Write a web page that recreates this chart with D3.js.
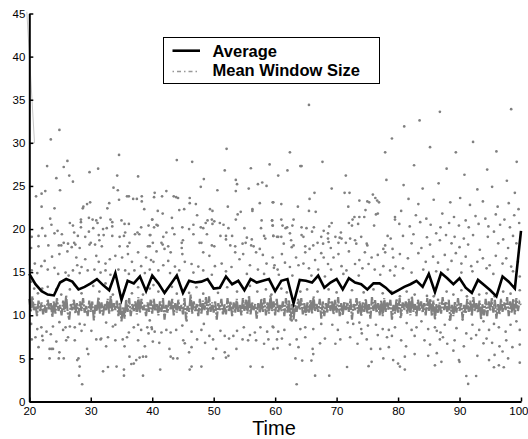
<!DOCTYPE html>
<html><head><meta charset="utf-8">
<script src="https://cdn.jsdelivr.net/npm/d3@7"></script>
<style>
html,body{margin:0;padding:0;background:#fff;}
svg{display:block;font-family:"Liberation Sans",Arial,Helvetica,sans-serif;}
</style></head><body>
<svg id="chart" width="528" height="439"></svg>
<script>
// Axis ticks
const xTicks = [20, 30, 40, 50, 60, 70, 80, 90, 100];
const yTicks = [0, 5, 10, 15, 20, 25, 30, 35, 40, 45];

// Average window size, one value per time unit
const avgTime = [20,21,22,23,24,25,26,27,28,29,30,31,32,33,34,35,36,37,38,39,40,41,42,43,44,45,46,47,48,49,50,51,52,53,54,55,56,57,58,59,60,61,62,63,64,65,66,67,68,69,70,71,72,73,74,75,76,77,78,79,80,81,82,83,84,85,86,87,88,89,90,91,92,93,94,95,96,97,98,99,100];
const avgValue = [14.8,13.6,12.8,12.4,12.3,13.8,14.2,13.9,13.0,13.3,13.7,14.2,13.5,12.9,14.9,11.8,14.0,13.7,14.5,12.8,14.6,13.7,12.6,13.6,14.6,12.6,14.0,13.8,13.9,14.2,13.1,13.2,14.5,13.6,14.0,12.9,14.2,13.8,14.0,14.2,12.8,14.0,14.2,11.4,14.1,14.0,13.8,14.6,13.2,13.8,14.2,13.0,14.3,13.8,13.6,13.0,13.7,13.7,13.2,12.5,12.9,13.3,13.6,14.0,13.3,14.8,12.7,14.9,14.3,13.6,14.3,13.2,12.6,14.1,13.5,12.9,12.2,14.5,13.9,13.1,19.8];

// Mean window size, sampled every quarter time unit from t = 20
const meanWindowStart = 20;
const meanWindowStep = 0.25;
const meanWindow = [
 11.9,10.4,12.2,10.6, 11.3,9.9,11.7,10.5, 11.5,10.1,11.2,10.3, 11.8,10.6,11.4,9.8, 11.6,10.2,12.0,10.5,
 11.2,10.0,11.7,10.4, 12.3,10.3,9.5,11.3, 10.6,11.8,10.2,11.4, 10.0,11.6,10.5,12.0, 10.3,11.1,9.9,11.7,
 10.4,11.6,9.4,11.2, 10.5,12.1,10.2,11.5, 10.0,11.3,10.6,11.9, 10.2,12.3,10.4,11.4, 10.6,11.7,9.9,11.5,
 9.3,11.0,9.6,11.8, 10.4,12.0,9.9,11.3, 10.5,11.6,10.1,12.1, 10.3,11.9,10.6,11.2, 9.9,11.5,10.4,11.8,
 10.2,11.9,10.5,11.3, 10.0,11.6,10.4,12.0, 9.5,11.2,10.3,11.7, 10.6,11.9,10.0,11.4, 10.3,11.8,10.5,11.2,
 10.1,12.0,9.5,11.1, 10.4,12.4,10.2,11.6, 10.5,11.3,9.9,11.9, 10.2,11.7,10.6,12.1, 10.0,12.2,10.4,11.5,
 10.3,11.6,9.5,11.4, 10.6,11.9,10.1,11.3, 10.1,12.0,10.5,11.6, 9.9,11.5,10.3,11.9, 10.4,11.2,10.0,12.0,
 10.5,11.8,10.2,12.3, 10.1,11.5,10.6,11.3, 9.6,11.4,10.3,11.9, 10.4,12.0,10.0,11.5, 10.2,12.3,10.5,11.6,
 10.0,11.9,10.3,11.2, 10.5,11.6,9.9,12.0, 10.3,11.8,9.4,11.3, 9.5,11.2,10.4,11.9, 10.6,12.0,10.1,11.4,
 10.0,11.5,10.3,11.8, 10.2,12.2,10.5,11.3, 10.4,11.9,9.6,11.6, 9.9,11.4,10.3,12.0, 10.5,11.7,10.1,11.8,
 10.3,12.1,9.9,11.4, 10.0,11.6,10.6,11.5, 10.4,11.9,9.5,11.3, 10.6,12.0,10.2,11.6, 9.9,11.5,10.4,11.9,
 10.2,11.3,9.6,12.1, 10.5,11.8,10.3,11.4, 10.0,11.7,9.9,12.0, 10.4,11.5,10.6,11.8, 9.5,11.2,10.2,11.9,
 10.3,12.0,9.9,11.5, 10.6,11.6,10.2,11.9, 10.0,12.2,10.4,11.3, 9.9,11.8,10.5,11.6, 10.3,11.4,10.0,12.0,
 10.5,11.9,9.9,11.7, 9.5,11.3,10.3,11.5, 10.2,12.1,10.6,11.6, 10.4,11.8,9.4,11.2, 9.9,11.6,10.3,12.0,
 10.5,11.4,9.6,11.2, 10.2,11.9,10.4,11.7, 9.9,12.1,10.5,11.4, 10.3,11.7,9.5,11.3, 10.0,11.9,9.9,11.6,
 10.5,12.0,10.3,11.8, 9.6,11.3,10.1,11.9, 10.4,11.5,10.6,12.1, 9.9,11.6,10.3,11.9, 10.1,12.0,10.5,11.5,
 11.2
];

// Early transient of the window size trace
const startTrace = [[19.6, 45.2], [20.85, 30.0], [20.0, 30.0]];

// Individual window sizes observed over time [time, size]
const windowSamples = [
[24.9,31.5],[23.5,30.4],[34.6,28.6],[26.2,27.9],[22.9,27.3],[25.6,27.2],[31.2,27.0],[29.8,26.6],[26.5,26.2],[37.7,26.1],
[34.3,26.2],[24.4,25.9],[27.1,25.5],[33.7,24.8],[25.0,24.5],[34.4,24.5],[22.6,24.4],[22.0,24.1],[21.1,23.8],[34.6,23.4],
[36.2,23.8],[35.9,23.8],[36.9,23.5],[37.5,23.5],[38.3,23.8],[38.3,23.2],[29.9,23.1],[29.4,22.9],[22.0,22.6],[28.8,22.6],
[28.7,22.4],[24.1,22.4],[32.7,22.4],[33.0,23.0],[38.7,22.3],[23.4,21.2],[29.7,21.3],[28.4,21.1],[30.3,21.1],[30.9,21.0],
[31.6,21.3],[33.2,21.1],[35.0,21.0],[28.4,20.8],[23.6,20.5],[26.6,20.7],[27.1,20.4],[31.1,20.7],[33.5,20.8],[35.5,20.6],
[36.2,20.6],[39.4,20.4],[40.0,21.1],[28.4,20.2],[30.4,20.1],[32.6,20.1],[32.0,20.0],[38.2,20.2],[33.5,20.3],[22.1,20.1],
[24.6,19.8],[24.1,19.5],[25.3,19.4],[27.3,19.6],[29.7,19.7],[27.9,19.2],[29.1,19.1],[31.3,19.3],[32.1,19.3],[33.5,19.2],
[34.7,19.1],[35.6,19.6],[35.4,19.2],[37.2,19.4],[37.6,19.6],[37.9,19.4],[39.7,19.3],[20.4,19.1],[21.5,19.2],[22.6,19.2],
[31.4,18.7],[30.0,18.4],[29.8,18.2],[26.3,18.3],[27.3,18.4],[27.5,18.2],[24.8,18.1],[25.2,18.1],[25.6,18.4],[23.1,18.1],
[21.5,18.0],[20.3,17.8],[26.9,17.9],[28.2,17.8],[30.7,18.2],[31.8,18.0],[34.7,18.0],[36.0,18.0],[36.3,18.4],[39.3,18.0],
[52.1,29.3],[44.0,28.0],[46.5,27.8],[56.05,27.05],[59.1,27.5],[51.8,26.8],[48.4,25.8],[53.6,25.7],[53.8,25.2],[47.9,24.9],
[53.6,24.4],[50.6,24.5],[55.7,24.7],[57.2,25.2],[57.9,25.4],[58.6,25.0],[40.4,24.2],[42.3,24.4],[40.3,23.7],[41.6,23.8],
[43.5,23.8],[43.9,23.7],[44.2,23.6],[46.1,23.6],[46.1,23.0],[47.1,22.9],[57.5,23.0],[59.7,23.1],[52.3,22.6],[44.4,22.2],
[45.2,22.3],[49.4,22.3],[49.8,22.1],[54.4,22.0],[53.9,21.7],[56.3,22.3],[56.3,22.1],[40.9,22.1],[41.7,21.8],[47.3,21.6],
[43.2,21.3],[40.0,21.1],[49.0,21.0],[49.7,21.1],[50.1,20.9],[53.6,21.1],[57.8,21.0],[59.5,21.0],[48.7,20.7],[49.8,20.6],
[51.0,20.7],[51.6,20.5],[40.7,20.5],[40.3,20.2],[40.9,20.4],[46.7,20.5],[47.9,20.2],[48.3,20.1],[44.9,20.2],[43.3,20.1],
[46.0,20.0],[52.4,20.1],[55.0,20.1],[57.7,20.1],[59.6,20.4],[42.3,19.6],[39.6,19.3],[41.8,19.1],[43.6,19.4],[46.7,19.4],
[48.9,19.4],[51.1,19.2],[52.0,19.2],[53.0,19.2],[55.4,19.0],[56.2,18.8],[58.2,19.2],[58.4,18.9],[59.7,19.2],[45.0,18.7],
[44.8,18.4],[40.1,18.4],[41.5,18.4],[41.7,18.2],[42.6,18.0],[47.7,18.4],[48.0,18.4],[49.7,18.1],[50.1,18.0],[52.0,18.8],
[52.7,18.1],[53.5,18.0],[54.7,18.3],[55.2,18.4],[56.1,18.1],[56.5,18.0],[57.5,17.7],[44.8,17.8],[42.0,17.7],[39.6,18.0],
[65.5,34.4],[79.0,30.5],[62.4,28.9],[77.9,28.9],[67.7,27.8],[64.1,27.3],[64.3,27.3],[62.0,26.8],[60.5,26.2],[71.5,26.2],
[78.1,25.7],[69.2,24.7],[66.4,24.2],[71.3,24.2],[72.1,24.2],[75.9,24.0],[65.6,23.5],[59.6,23.1],[61.0,22.9],[73.7,23.3],
[75.0,23.2],[75.3,23.1],[76.3,23.6],[76.6,23.3],[76.9,23.1],[63.7,22.6],[71.9,22.6],[65.5,22.1],[66.6,22.0],[74.7,22.2],
[76.7,21.8],[76.4,21.7],[72.9,21.4],[73.7,21.4],[74.5,21.4],[63.0,21.1],[79.5,21.4],[79.5,21.1],[61.0,21.1],[59.5,21.0],
[72.6,21.1],[72.0,20.7],[69.2,20.7],[73.5,20.6],[59.6,20.4],[61.2,20.4],[61.7,20.1],[61.95,20.2],[62.8,20.4],[64.3,20.2],
[65.1,20.1],[66.3,20.2],[68.8,20.3],[72.5,20.4],[76.1,20.4],[67.9,19.8],[68.6,19.5],[70.7,19.6],[66.0,19.7],[62.4,19.5],
[60.5,19.1],[59.7,19.2],[60.3,19.1],[61.0,19.1],[64.3,19.3],[64.6,19.1],[67.5,19.1],[68.6,18.9],[69.8,19.1],[70.5,19.0],
[70.8,18.9],[72.2,18.9],[74.0,19.1],[78.3,19.2],[78.8,18.9],[62.6,18.7],[66.9,18.4],[67.8,18.3],[68.7,18.5],[70.3,18.4],
[71.5,18.4],[73.0,18.7],[73.2,18.3],[74.9,18.3],[75.0,18.1],[63.0,18.1],[62.7,17.9],[61.4,18.3],[64.9,18.0],[65.6,17.7],
[66.2,18.1],[69.05,17.8],[77.9,18.1],[77.6,17.7],[79.1,17.7],
[23.7,16.8],[20.9,16.0],[21.96,15.7],[22.5,16.3],[24.9,17.1],[26.2,17.4],[27.65,16.7],[27.8,15.8],[28.5,15.6],[29.1,16.5],
[30.9,16.9],[31.3,16.2],[32.4,16.0],[33.1,16.5],[34.0,16.9],[35.1,16.7],[36.05,17.1],[36.7,16.2],[37.7,17.3],[38.2,15.7],
[39.0,16.7],[39.8,16.4],[20.4,15.2],[21.3,14.9],[23.0,15.3],[24.1,15.5],[24.7,14.8],[25.9,14.95],[26.4,14.6],[27.1,15.2],
[28.2,14.9],[29.5,15.2],[30.6,15.3],[31.6,14.95],[32.4,15.2],[33.2,14.7],[34.5,15.3],[35.6,15.2],[36.2,14.8],[37.1,15.2],
[38.8,14.9],[39.6,15.3],[20.3,13.9],[20.8,13.1],[21.4,12.55],[22.1,13.1],[23.0,13.3],[24.4,13.0],[25.2,12.4],[26.6,13.0],
[27.4,13.5],[28.5,12.55],[30.4,13.4],[31.4,12.75],[32.4,13.7],[33.6,12.4],[35.5,12.9],[36.7,12.55],[37.7,13.25],[38.5,12.4],
[39.6,13.1],[20.3,9.0],[21.3,8.4],[21.96,8.6],[21.0,7.45],[22.1,7.6],[22.8,8.1],[23.5,7.8],[23.85,8.7],[24.9,9.2],
[25.5,8.3],[25.9,8.6],[26.6,8.7],[27.4,8.6],[28.2,9.0],[29.0,8.9],[26.3,7.45],[26.0,7.1],[27.4,7.1],[28.5,8.2],
[30.1,8.2],[30.9,7.2],[31.7,7.3],[32.8,7.45],[33.6,8.7],[32.5,9.15],[34.0,8.9],[35.2,7.2],[35.9,7.45],[36.2,8.0],
[37.0,8.6],[37.7,8.9],[38.2,8.3],[39.2,8.6],[39.6,9.4],[39.95,8.4],[20.4,7.2],[21.5,6.3],[23.3,6.1],[23.6,6.1],
[23.85,6.1],[24.9,5.7],[24.8,5.0],[23.3,5.0],[25.6,5.0],[27.8,4.8],[28.0,5.0],[29.4,6.1],[29.6,5.5],[31.6,7.2],
[32.5,6.4],[32.8,4.0],[34.2,4.05],[35.4,3.7],[35.4,3.0],[36.3,5.2],[36.6,4.35],[37.0,4.4],[37.4,4.8],[37.95,5.1],
[38.5,5.2],[39.0,5.2],[38.5,3.0],[34.0,7.1],[35.5,6.4],[37.7,7.1],[38.8,6.4],[39.4,7.9],[28.2,4.05],[28.1,3.0],
[28.6,2.0],[32.0,3.5],[22.2,7.1],[24.4,6.95],
[40.7,17.4],[43.0,17.3],[44.9,17.1],[48.3,17.3],[49.3,16.9],[53.5,17.3],[54.8,17.1],[56.9,17.3],[58.0,17.0],[59.6,16.7],
[40.2,16.2],[41.8,15.8],[42.6,16.3],[43.7,15.65],[45.3,16.2],[46.4,15.95],[47.5,15.65],[48.3,15.2],[50.2,15.7],[51.3,16.0],
[52.9,15.6],[54.2,16.5],[55.9,15.8],[57.2,15.3],[58.6,16.0],[59.8,15.5],[41.0,15.2],[42.9,14.9],[44.4,15.2],[46.7,14.95],
[49.7,14.7],[52.0,15.1],[55.4,14.8],[58.2,14.8],[40.2,13.5],[41.0,12.75],[43.2,13.3],[44.0,12.5],[46.0,12.6],[47.2,13.25],
[48.3,12.5],[50.7,12.6],[52.2,13.25],[53.8,12.75],[55.9,13.4],[57.1,12.75],[58.5,13.0],[59.4,12.4],
[39.9,8.6],[40.4,8.1],[41.5,8.0],[42.3,8.3],[43.0,8.0],[43.9,8.3],[44.9,8.8],[45.6,9.4],[46.4,8.1],[48.0,8.3],
[48.4,9.0],[49.3,7.6],[51.1,8.2],[51.8,7.6],[52.5,7.3],[53.2,7.6],[53.8,8.2],[54.9,8.6],[55.9,7.7],[56.7,8.0],
[57.6,8.6],[58.7,8.1],[59.6,8.7],[40.1,6.95],[41.15,6.8],[45.05,7.1],[45.3,6.75],[47.3,7.2],[46.4,6.3],[48.6,6.8],
[49.9,7.2],[50.4,6.1],[51.8,5.7],[53.7,6.1],[54.7,7.2],[55.6,7.1],[56.9,7.1],[58.2,6.7],[58.9,7.2],[42.8,6.1],
[43.0,5.2],[43.4,5.0],[44.1,5.0],[46.0,5.7],[49.9,5.0],[52.0,5.1],[52.4,5.3],[56.0,4.05],[57.95,4.0],[46.4,4.05],
[46.1,3.7],[48.0,4.05],[41.3,3.7],
[61.1,17.1],[63.4,16.7],[64.9,17.3],[66.5,16.4],[67.5,17.2],[67.9,16.7],[69.5,16.7],[70.3,17.1],[72.0,17.4],[73.7,16.4],
[74.6,17.3],[75.7,16.7],[76.7,17.0],[77.9,17.3],[79.2,16.7],[59.9,15.8],[60.4,15.3],[61.6,16.1],[62.4,15.6],[63.8,15.8],
[64.6,16.0],[65.5,15.45],[67.0,15.3],[68.6,15.95],[69.1,15.3],[70.8,15.7],[71.6,15.2],[73.0,15.95],[74.2,15.45],[75.2,15.95],
[76.2,15.3],[77.6,15.7],[78.7,15.2],[79.6,15.65],[60.6,14.7],[62.8,14.6],[65.9,14.6],[68.1,14.5],[71.1,14.8],[73.6,14.6],
[77.1,14.7],[79.4,14.6],[61.0,13.1],[61.9,12.65],[64.1,12.75],[65.2,13.0],[66.9,12.75],[68.7,13.0],[70.0,12.65],[72.5,12.9],
[74.4,12.65],[76.0,13.0],[77.5,12.55],[78.9,12.75],
[62.7,9.4],[63.4,9.4],[59.7,8.6],[60.5,8.1],[61.5,8.3],[64.1,8.4],[64.9,8.6],[66.2,8.4],[67.5,9.0],[69.3,8.9],
[70.2,8.3],[71.8,9.15],[72.7,9.0],[73.7,9.15],[74.0,8.4],[75.1,8.8],[76.4,8.9],[77.5,8.4],[78.5,8.3],[79.5,8.6],
[60.3,7.2],[61.1,7.3],[63.5,7.2],[64.9,7.45],[68.1,7.3],[70.6,7.2],[72.2,7.45],[74.1,7.9],[74.9,7.2],[76.7,7.7],
[78.2,7.45],[79.0,7.6],[59.7,6.1],[60.4,6.2],[62.4,6.6],[63.8,6.3],[66.1,6.1],[67.3,6.75],[69.8,6.7],[73.4,6.7],
[75.6,6.1],[77.1,6.1],[78.5,6.3],[63.3,5.0],[64.4,4.75],[66.2,5.5],[65.9,4.75],[71.7,4.0],[75.2,4.1],[75.7,4.6],
[77.6,5.0],[79.2,4.8],[66.5,3.0],[68.8,3.0],[63.5,2.0],
[80.8,19.2],[82.2,18.35],[82.5,19.4],[83.8,17.8],[84.7,19.05],[85.2,18.2],[86.2,19.5],[86.8,18.7],[87.8,19.3],[88.7,18.35],
[89.2,19.1],[90.0,17.9],[90.7,18.9],[91.4,18.2],[92.2,19.3],[93.3,17.6],[94.6,19.1],[95.6,19.7],[96.3,18.35],[97.1,18.8],
[97.9,17.8],[98.7,19.2],[99.25,18.35],[80.3,17.1],[81.6,16.6],[83.3,17.2],[84.5,16.2],[85.7,16.8],[86.5,16.1],[87.6,17.0],
[88.7,16.3],[89.4,17.2],[90.3,16.0],[91.0,16.8],[91.9,15.7],[92.9,16.2],[93.8,16.6],[94.9,15.8],[95.9,16.9],[97.0,16.0],
[97.6,16.6],[98.4,15.65],[99.5,16.2],[80.8,15.45],[82.2,14.95],[84.1,15.3],[86.2,15.1],[88.1,15.3],[90.3,14.95],[92.1,15.1],
[94.4,15.45],[95.5,14.8],[98.7,15.1],[99.8,14.5],[80.3,12.2],[81.4,12.75],[82.7,12.4],[84.7,12.25],[85.8,12.2],[86.5,11.8],
[87.9,12.75],[89.0,12.4],[90.3,12.9],[91.2,12.2],[93.2,12.4],[94.4,12.55],[95.7,12.2],[97.1,12.75],[98.3,12.5],[99.8,12.9],
[80.4,9.8],[81.4,9.1],[82.2,8.3],[83.0,8.6],[83.8,9.3],[84.9,8.4],[86.0,8.6],[86.3,8.2],[86.9,8.0],[87.6,8.9],
[88.4,9.5],[89.5,8.5],[90.5,9.5],[91.1,7.9],[92.1,8.9],[93.2,8.3],[93.9,9.3],[94.8,8.3],[95.6,9.0],[96.4,8.6],
[97.5,8.1],[98.3,8.9],[99.25,9.3],[99.8,8.3],[80.5,7.1],[81.3,6.4],[82.7,7.6],[84.3,7.1],[85.2,6.6],[86.8,7.2],
[87.3,7.45],[88.0,6.7],[89.2,7.1],[90.7,6.4],[91.9,7.3],[92.7,7.7],[93.9,6.75],[94.4,7.3],[95.3,6.8],[96.5,6.4],
[97.6,7.1],[98.6,6.3],[99.8,6.6],[81.1,5.2],[82.7,5.5],[84.9,5.3],[86.3,5.6],[89.0,5.9],[89.9,4.8],[92.9,5.3],
[95.7,5.4],[97.0,5.8],[97.9,5.0],[80.0,4.4],[80.3,4.05],[81.1,3.7],[86.0,4.2],[87.05,4.6],[90.0,4.6],[94.8,4.8],
[95.6,3.97],[96.4,4.2],[97.2,3.97],[99.8,4.5],[91.1,2.96],[92.7,2.96],[91.4,2.04],
[86.8,33.6],[98.4,33.9],[81.0,31.9],[83.5,32.6],[85.2,29.5],[89.4,28.9],[92.2,30.1],[96.0,29.0],[99.3,27.8],[82.6,27.4],
[87.9,27.0],[94.5,26.9],[90.8,26.3],[97.7,25.6],[80.9,25.1],[84.0,24.7],[86.6,25.3],[92.9,24.6],[95.3,24.9],[99.0,24.2],
[81.7,23.5],[83.3,22.9],[85.8,23.4],[88.5,23.1],[90.1,23.6],[91.7,22.8],[93.8,23.2],[96.2,22.6],[98.0,23.0],[99.6,22.3],
[80.5,22.1],[82.9,21.6],[84.6,21.2],[87.2,21.8],[89.1,21.4],[91.0,21.0],[92.6,21.5],[94.2,21.2],[95.9,21.7],[97.3,21.1],
[98.9,21.6],[80.2,20.6],[81.9,20.3],[83.6,20.8],[85.3,20.5],[86.9,20.2],[88.3,20.7],[89.9,20.4],[91.5,20.2],[93.1,20.6],
[94.7,20.3],[96.6,20.5],[98.2,20.2],[99.7,20.7]
];

const W = 528, H = 439;
const x = d3.scaleLinear().domain([20, 100]).range([29.3, 521]);
const y = d3.scaleLinear().domain([0, 45]).range([401.5, 13.5]);

const svg = d3.select("#chart");
svg.append("rect").attr("width", W).attr("height", H).attr("fill", "#fff");

// scattered samples
svg.append("g").selectAll("circle").data(windowSamples).join("circle")
  .attr("cx", d => x(d[0])).attr("cy", d => y(d[1]))
  .attr("r", 1.35).attr("fill", "#808080");

// mean window size trace
const meanPts = meanWindow.map((v, i) => [meanWindowStart + i * meanWindowStep, v]);
const line = d3.line().x(d => x(d[0])).y(d => y(d[1]));
svg.append("path").datum(meanPts).attr("d", line)
  .attr("fill", "none").attr("stroke", "#808080").attr("stroke-width", 2.2)
  .attr("stroke-dasharray", "12,1.5,2,1.5");
svg.append("path").datum(startTrace).attr("d", line)
  .attr("fill", "none").attr("stroke", "#c8c8c8").attr("stroke-width", 1);

// average
svg.append("path").datum(avgTime.map((t, i) => [t, avgValue[i]])).attr("d", line)
  .attr("fill", "none").attr("stroke", "#000").attr("stroke-width", 2.6)
  .attr("stroke-linejoin", "miter");

// axes
const xAxis = d3.axisBottom(x).tickValues(xTicks).tickSizeInner(-4).tickSizeOuter(0).tickPadding(5).tickFormat(d3.format("d"));
const yAxis = d3.axisLeft(y).tickValues(yTicks).tickSizeInner(-4).tickSizeOuter(0).tickPadding(4).tickFormat(d3.format("d"));
const gx = svg.append("g").attr("transform", `translate(0,${y(0)})`).call(xAxis);
const gy = svg.append("g").attr("transform", `translate(${x(20)},0)`).call(yAxis);
[gx, gy].forEach(g => {
  g.select(".domain").attr("stroke", "#000").attr("stroke-width", 2);
  g.selectAll(".tick line").attr("stroke", "#000").attr("stroke-width", 1.5);
  g.selectAll(".tick text").attr("fill", "#000").style("font-size", "11.5px")
    .style("font-family", "'Liberation Sans', Arial, sans-serif");
});
// keep the last time label inside the frame
gx.selectAll(".tick text").filter(d => d === 100).attr("text-anchor", "end").attr("x", 7);

svg.append("text").attr("x", 274).attr("y", 435).attr("text-anchor", "middle")
  .style("font-size", "20px").text("Time");

// legend
const lg = svg.append("g");
lg.append("rect").attr("x", 163.5).attr("y", 37.5).attr("width", 216).attr("height", 46)
  .attr("fill", "#fff").attr("stroke", "#000").attr("stroke-width", 1);
lg.append("line").attr("x1", 172.5).attr("x2", 200).attr("y1", 50.7).attr("y2", 50.7)
  .attr("stroke", "#000").attr("stroke-width", 2.6);
lg.append("line").attr("x1", 172.5).attr("x2", 200).attr("y1", 71.5).attr("y2", 71.5)
  .attr("stroke", "#999").attr("stroke-width", 1.6).attr("stroke-dasharray", "1.5,3,4,3");
lg.append("text").attr("x", 212.5).attr("y", 56.5).style("font-size", "16.5px")
  .style("font-weight", "bold").text("Average");
lg.append("text").attr("x", 212.5).attr("y", 76).style("font-size", "16.5px")
  .style("font-weight", "bold").text("Mean Window Size");
</script></body></html>
